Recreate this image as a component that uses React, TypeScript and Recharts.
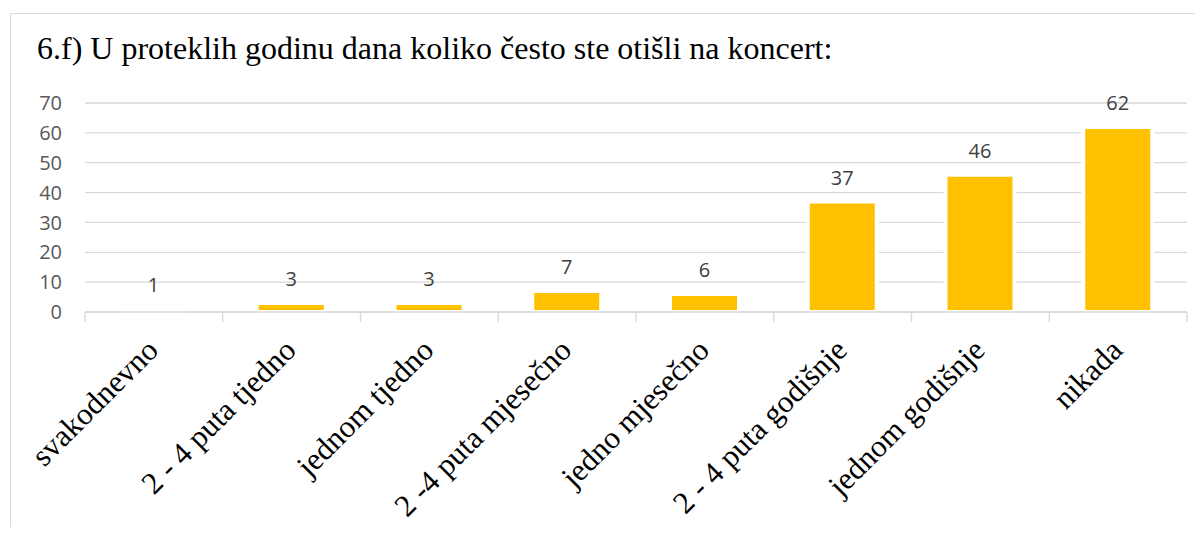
import React from 'react';
import { BarChart, Bar, XAxis, YAxis, CartesianGrid, LabelList } from 'recharts';

const categories = [
  'svakodnevno',
  '2 - 4 puta tjedno',
  'jednom tjedno',
  '2 -4 puta mjesečno',
  'jedno mjesečno',
  '2 - 4 puta godišnje',
  'jednom godišnje',
  'nikada',
];
const values = [1, 3, 3, 7, 6, 37, 46, 62];
const yTicks = [0, 10, 20, 30, 40, 50, 60, 70];
const title = '6.f) U proteklih godinu dana koliko često ste otišli na koncert:';

const data = categories.map((c, i) => ({ name: c, value: values[i] }));

const W = 1203;
const H = 535;
const M = { top: 103, right: 16, left: 0, bottom: 0 };
const Y_W = 85;
const X_H = 223;
const STEP = (W - M.left - M.right - Y_W) / categories.length;

const XTick = (props: any) => {
  const { x, y, payload, index } = props;
  const tx = x + 6;
  const ty = y + 40;
  return (
    <g>
      <line x1={x - STEP / 2} x2={x - STEP / 2} y1={y} y2={y + 10} stroke="#d9d9d9" strokeWidth={1.3} />
      {index === categories.length - 1 && (
        <line x1={x + STEP / 2} x2={x + STEP / 2} y1={y} y2={y + 10} stroke="#d9d9d9" strokeWidth={1.3} />
      )}
      <text
        x={tx}
        y={ty}
        textAnchor="end"
        transform={`rotate(-45, ${tx}, ${ty})`}
        fontFamily="'Liberation Serif', 'Times New Roman', serif"
        fontSize={31}
        fill="#000"
      >
        {payload.value}
      </text>
    </g>
  );
};

export default function App() {
  return (
    <div style={{ position: 'relative', width: W, height: H, margin: -8, overflow: 'hidden', background: '#fff' }}>
      <div
        style={{
          position: 'absolute',
          left: 10,
          top: 13,
          width: 1250,
          height: 600,
          border: '1px solid #d9d9d9',
          boxSizing: 'border-box',
        }}
      />
      <div
        style={{
          position: 'absolute',
          left: 37,
          top: 32,
          fontFamily: "'Liberation Serif', 'Times New Roman', serif",
          fontSize: 32,
          lineHeight: '32px',
          color: '#000',
          whiteSpace: 'nowrap',
        }}
      >
        {title}
      </div>
      <div style={{ position: 'absolute', left: 0, top: 0 }}>
        <BarChart width={W} height={H} data={data} margin={M} barCategoryGap={0}>
          <CartesianGrid vertical={false} stroke="#d9d9d9" strokeWidth={1.3} />
          <YAxis
            width={Y_W}
            domain={[0, 70]}
            ticks={yTicks}
            axisLine={false}
            tickLine={false}
            tickSize={0}
            tickMargin={23}
            interval={0}
            tick={{ fill: '#595959', fontSize: 20, fontFamily: "'Open Sans', sans-serif" }}
          />
          <Bar dataKey="value" fill="#ffc000" stroke="#ffffff" strokeWidth={4} barSize={69} isAnimationActive={false}>
            <LabelList
              dataKey="value"
              position="top"
              offset={17}
              fill="#404040"
              fontSize={20}
              fontFamily="'Open Sans', sans-serif"
            />
          </Bar>
          <XAxis
            dataKey="name"
            height={X_H}
            interval={0}
            tickLine={false}
            tickSize={0}
            tickMargin={0}
            axisLine={{ stroke: '#d9d9d9', strokeWidth: 1.3 }}
            tick={<XTick />}
          />
        </BarChart>
      </div>
    </div>
  );
}
